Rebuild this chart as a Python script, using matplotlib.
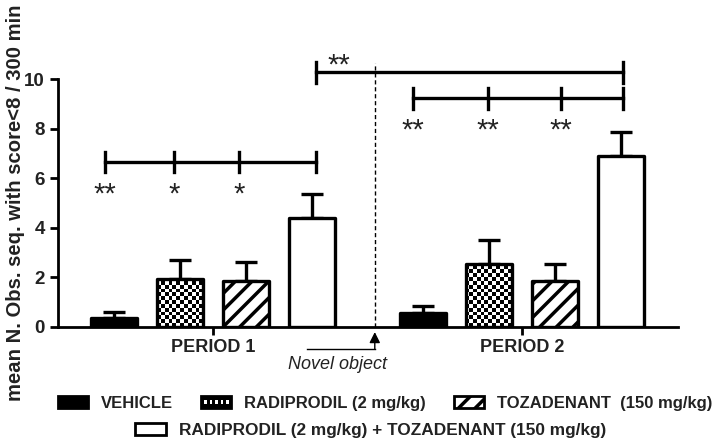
import numpy as np
import matplotlib
matplotlib.use("Agg")
import matplotlib.pyplot as plt
from matplotlib.patches import Rectangle
from matplotlib.legend_handler import HandlerBase

plt.rcParams['font.family'] = ['Liberation Sans', 'DejaVu Sans']
plt.rcParams['hatch.linewidth'] = 2.5
plt.rcParams['hatch.color'] = 'black'

# data
groups = ["VEHICLE", "RADIPRODIL (2 mg/kg)", "TOZADENANT  (150 mg/kg)",
          "RADIPRODIL (2 mg/kg) + TOZADENANT (150 mg/kg)"]
periods = ["PERIOD 1", "PERIOD 2"]
means_p1 = [0.33, 1.92, 1.85, 4.40]
sem_p1 = [0.27, 0.77, 0.77, 0.97]
means_p2 = [0.57, 2.52, 1.84, 6.90]
sem_p2 = [0.26, 0.97, 0.70, 0.98]

# significance brackets: tick slots, y level, stars under ticks
br1_ticks = [-0.14, 0.91, 1.89, 3.06]
br1_y = 6.65
br1_stars = ["**", "*", "*"]
br2_ticks = [4.53, 5.67, 6.77, 7.71]
br2_y = 9.23
br2_stars = ["**", "**", "**"]
br3_ticks = [3.06, 7.71]
br3_y = 10.27
br3_star = "**"

pos_p1 = np.arange(4)
pos_p2 = np.arange(4) + 4.68
width = 0.70
txt = '#222222'

fig = plt.figure(figsize=(7.16, 4.42), dpi=100)
ax = fig.add_axes([0.081, 0.261, 0.866, 0.560])
xlim = (-0.85, 8.545)
ylim = (0, 10)

styles = [dict(facecolor='black'), dict(facecolor='none'),
          dict(facecolor='white', hatch='//'), dict(facecolor='white')]

# checkerboard image used to fill the checker bars
nx, ny = 163, 65
cy, cx = np.mgrid[0:ny, 0:nx]
checker = ((cx + cy) % 2).astype(float)

for pos, means, sem in [(pos_p1, means_p1, sem_p1), (pos_p2, means_p2, sem_p2)]:
    ax.errorbar(pos, means, yerr=[np.zeros(4), sem], fmt='none', ecolor='black',
                elinewidth=2.4, capsize=8, capthick=2.4, zorder=1)
    for i in range(4):
        b = ax.bar(pos[i], means[i], width, edgecolor='black', linewidth=2.4,
                   joinstyle='round', zorder=3, **styles[i])[0]
        if i == 1:
            im = ax.imshow(checker, cmap='gray', extent=(*xlim, *ylim),
                           interpolation='nearest', aspect='auto', zorder=2)
            im.set_clip_path(b)

ax.set_xlim(*xlim)
ax.set_ylim(*ylim)
ax.set_aspect('auto')

for s in ['top', 'right']:
    ax.spines[s].set_visible(False)
for s in ['left', 'bottom']:
    ax.spines[s].set_linewidth(2)
ax.set_yticks([0, 2, 4, 6, 8, 10])
ax.set_xticks([pos_p1.mean(), pos_p2.mean()])
ax.set_xticklabels(periods)
ax.tick_params(axis='both', width=2, length=6, labelsize=13.5, colors='black',
               labelcolor=txt)
ax.tick_params(axis='x', labelsize=13, pad=3)
for lab in ax.get_xticklabels() + ax.get_yticklabels():
    lab.set_fontweight('bold')
ax.set_ylabel("mean N. Obs. seq. with score<8 / 300 min", fontsize=14.6,
              fontweight='bold', color=txt)
ax.yaxis.set_label_coords(-0.054, 0.5)

# brackets
def bracket(ticks, y, h):
    ax.plot([ticks[0], ticks[-1]], [y, y], color='black', lw=2.4, clip_on=False)
    for t in ticks:
        ax.plot([t, t], [y - h, y + h], color='black', lw=2.4, clip_on=False)

star_kw = dict(ha='center', va='baseline', fontsize=21, color=txt, clip_on=False)
bracket(br1_ticks, br1_y, 0.42)
for t, s in zip(br1_ticks, br1_stars):
    ax.text(t, br1_y - 1.62, s, **star_kw)
bracket(br2_ticks, br2_y, 0.42)
for t, s in zip(br2_ticks, br2_stars):
    ax.text(t, br2_y - 1.62, s, **star_kw)
bracket(br3_ticks, br3_y, 0.42)
ax.text(br3_ticks[0] + 0.35, br3_y - 0.05, br3_star, **star_kw)

# novel object marker
xd = 3.95
ax.plot([xd, xd], [0, 10.67], color='black', lw=1, ls=(0, (3, 2)), clip_on=False)
ax.plot([2.92, xd], [-0.9, -0.9], color='black', lw=1, clip_on=False)
ax.annotate("", xy=(xd, -0.22), xytext=(xd, -0.9), annotation_clip=False,
            arrowprops=dict(arrowstyle='-|>', color='black', lw=1,
                            mutation_scale=16, shrinkA=0, shrinkB=0))
ax.text(3.38, -1.2, "Novel object", ha='center', va='top', fontsize=13,
        style='italic', color=txt, clip_on=False)


# legend handler for the checker patch
class HandlerChecker(HandlerBase):
    def create_artists(self, legend, orig, xd0, yd0, w, h, fs, trans):
        arts = [Rectangle((xd0, yd0), w, h, facecolor='black', edgecolor='black',
                          lw=2, transform=trans)]
        n = 5
        sw = w / (2 * n + 1)
        for k in range(n):
            arts.append(Rectangle((xd0 + sw * (2 * k + 1), yd0 + h * 0.35), sw, h * 0.3,
                                  facecolor='white', edgecolor='none', transform=trans))
        return arts


handles = [Rectangle((0, 0), 1, 1, facecolor='black', edgecolor='black', lw=2),
           Rectangle((0, 0), 1, 1, facecolor='black', edgecolor='black', lw=2),
           Rectangle((0, 0), 1, 1, facecolor='white', edgecolor='black', lw=2, hatch='//'),
           Rectangle((0, 0), 1, 1, facecolor='white', edgecolor='black', lw=2)]
leg_kw = dict(frameon=False, handlelength=1.8, handleheight=0.7, handletextpad=0.75)
leg1 = fig.legend(handles[:3], groups[:3], ncol=3, loc='center', bbox_to_anchor=(0.538, 0.088),
                  handler_map={handles[1]: HandlerChecker()}, columnspacing=1.7,
                  prop=dict(size=12, weight='bold'), **leg_kw)
leg2 = fig.legend(handles[3:], groups[3:], ncol=1, loc='center', bbox_to_anchor=(0.517, 0.027),
                  prop=dict(size=12.4, weight='bold'), **leg_kw)
for lg in (leg1, leg2):
    for t in lg.get_texts():
        t.set_color(txt)

fig.savefig("out.png", dpi=100)
